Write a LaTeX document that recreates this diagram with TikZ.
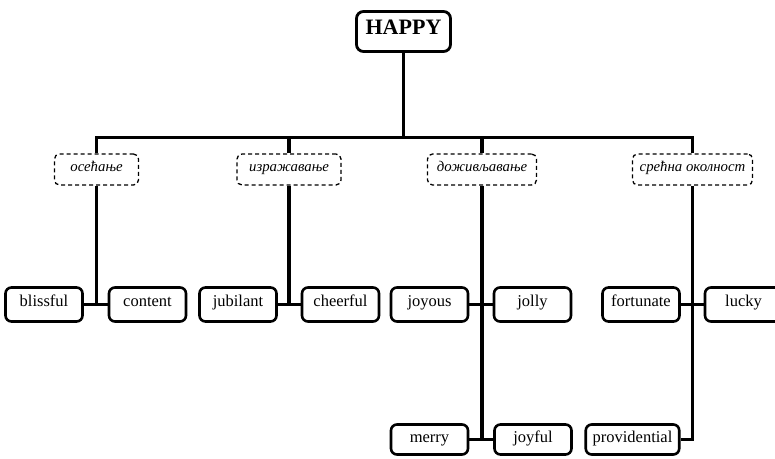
\documentclass[tikz,border=0pt]{standalone}
\usepackage{fontspec}
\setmainfont{Liberation Serif}
\begin{document}
\begin{tikzpicture}[x=1pt,y=-1pt,
  wordbox/.style={draw, line width=2.6pt, rounded corners=6pt, fill=white,
    inner xsep=0pt, inner ysep=0pt, minimum width=77pt,
    text height=18.5pt, text depth=15.5pt, font=\fontsize{16.5}{18}\selectfont},
  lowbox/.style={wordbox, text height=17.5pt, text depth=12.5pt},
  catbox/.style={draw, line width=1.3pt, dash pattern=on 4pt off 3pt, rounded corners=5pt,
    fill=white, inner xsep=0pt, inner ysep=0pt, text height=17pt, text depth=14pt,
    font=\fontsize{14.8}{16}\selectfont\itshape},
  topbox/.style={draw, line width=2.8pt, rounded corners=7pt, fill=white,
    inner xsep=0pt, inner ysep=0pt, minimum width=94pt,
    text height=22.5pt, text depth=17.5pt, font=\fontsize{22}{24}\selectfont\bfseries},
  link/.style={line width=3.6pt, line join=miter}]
\useasboundingbox (0,0) rectangle (775,458);
\node[topbox] (happy) at (403.5,31.5) {HAPPY};
\coordinate (bar) at (403.5,137.5);
\node[catbox, minimum width=84pt] (l1) at (96.5,169.5) {осећање};
\node[catbox, minimum width=104pt] (l2) at (289,169.5) {изражавање};
\node[catbox, minimum width=109pt] (l3) at (482,169.5) {доживљавање};
\node[catbox, minimum width=120pt] (l4) at (692.5,169.5) {срећна околност};
\node[wordbox] (blissful) at (44,304.5) {blissful};
\node[wordbox] (content) at (147.5,304.5) {content};
\node[wordbox] (jubilant) at (238,304.5) {jubilant};
\node[wordbox] (cheerful) at (340.5,304.5) {cheerful};
\node[wordbox] (joyous) at (429.5,304.5) {joyous};
\node[wordbox] (jolly) at (532.5,304.5) {jolly};
\node[wordbox] (fortunate) at (641,304.5) {fortunate};
\node[wordbox, minimum width=95pt] (lucky) at (752.5,304.5) {lucky\kern18pt\relax};
\node[lowbox] (merry) at (429.5,439.5) {merry};
\node[lowbox] (joyful) at (533,439.5) {joyful};
\node[lowbox, minimum width=93.5pt] (providential) at (632.5,439.5) {providential};
\draw[link] (happy.south) -- (bar);
\draw[link] (l1.north) -- (l1.north |- bar) -- (l4.north |- bar) -- (l4.north);
\draw[link] (l2.north |- bar) -- (l2.north);
\draw[link] (l3.north |- bar) -- (l3.north);
\draw[link] (l1.south) -- (l1.south |- blissful.east);
\draw[link] (blissful.east) -- (content.west);
\draw[link] (l2.south) -- (l2.south |- jubilant.east);
\draw[link] (jubilant.east) -- (cheerful.west);
\draw[link] (l3.south) -- (l3.south |- merry.east);
\draw[link] (joyous.east) -- (jolly.west);
\draw[link] (merry.east) -- (joyful.west);
\draw[link] (l4.south) -- (l4.south |- providential.east) -- (providential.east);
\draw[link] (fortunate.east) -- (lucky.west);
\end{tikzpicture}
\end{document}
